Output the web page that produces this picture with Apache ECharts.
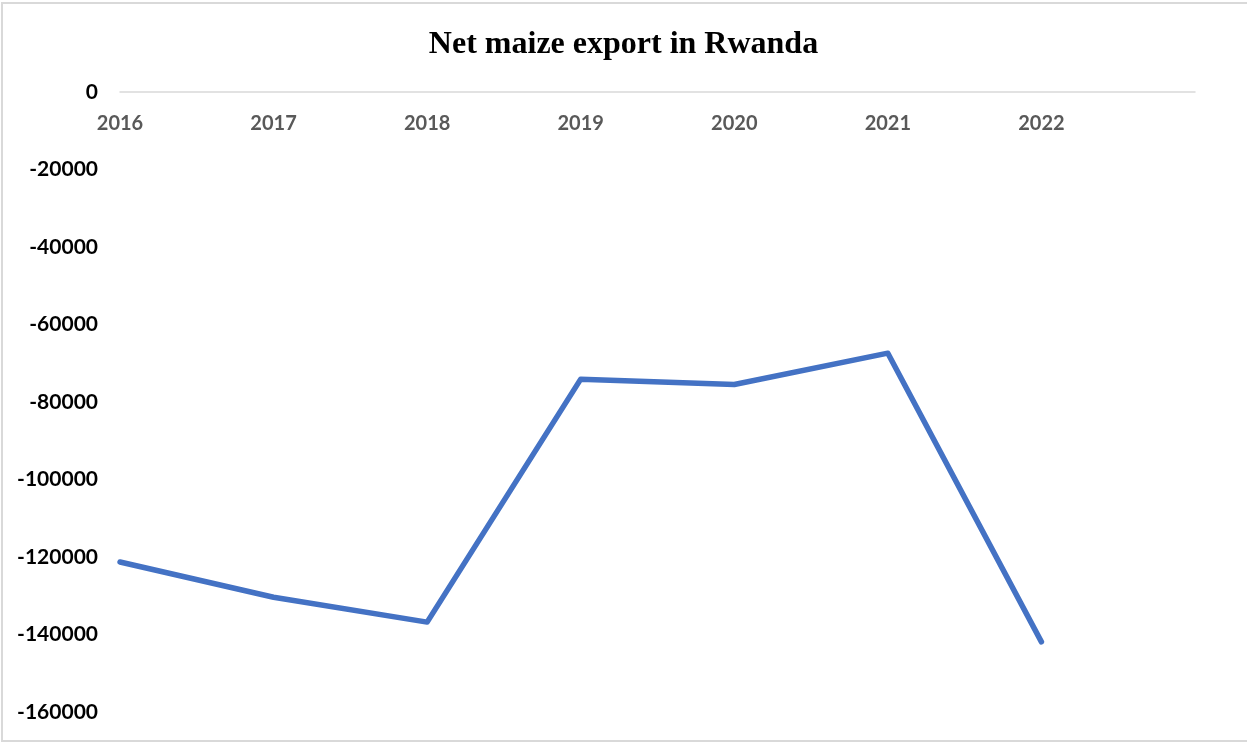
<!DOCTYPE html>
<html>
<head>
<meta charset="utf-8">
<script src="https://cdn.jsdelivr.net/npm/echarts@6/dist/echarts.min.js"></script>
<style>
  html, body { margin: 0; padding: 0; background: #fff; overflow: hidden; width: 1247px; height: 742px; }
  #frame {
    position: absolute; left: 1px; top: 2px; width: 1246px; height: 740px; box-sizing: border-box;
    border-left: 2px solid #d9d9d9; border-top: 2px solid #d9d9d9; border-bottom: 2px solid #d9d9d9;
  }
  #chart { position: absolute; left: 0; top: 0; width: 1247px; height: 742px; }
</style>
</head>
<body>
<div id="frame"></div>
<div id="chart"></div>
<script>
// Net maize export (tonnes), Rwanda
const years = ['2016', '2017', '2018', '2019', '2020', '2021', '2022', ''];
const netExport = [-121300, -130400, -136800, -74100, -75500, -67400, -141900];
const yTicks = { min: -160000, max: 0, step: 20000 };

const chart = echarts.init(document.getElementById('chart'));
chart.setOption({
  backgroundColor: 'transparent',
  title: {
    text: 'Net maize export in Rwanda',
    left: 'center',
    top: 24,
    textStyle: { fontFamily: 'Liberation Serif', fontWeight: 'bold', fontSize: 32, color: '#000' }
  },
  grid: { left: 120, right: 52, top: 92, bottom: 30, containLabel: false },
  xAxis: {
    type: 'category',
    data: years,
    boundaryGap: false,
    position: 'top',
    axisLine: { onZero: false, lineStyle: { color: '#d9d9d9', width: 1.5 } },
    axisTick: { show: false },
    axisLabel: {
      inside: true, margin: 22, color: '#595959', fontFamily: 'Lato', fontWeight: 'bold', fontSize: 20,
      interval: 0
    },
    splitLine: { show: false }
  },
  yAxis: {
    type: 'value',
    min: yTicks.min,
    max: yTicks.max,
    interval: yTicks.step,
    axisLine: { show: false },
    axisTick: { show: false },
    splitLine: { show: false },
    axisLabel: {
      margin: 22, color: '#000', fontFamily: 'Lato', fontWeight: 'bold', fontSize: 21,
      formatter: v => String(v)
    }
  },
  series: [{
    type: 'line',
    data: netExport,
    showSymbol: false,
    symbol: 'none',
    lineStyle: { color: '#4472c4', width: 5.5, cap: 'round', join: 'round' },
    animation: false
  }]
});
</script>
</body>
</html>
